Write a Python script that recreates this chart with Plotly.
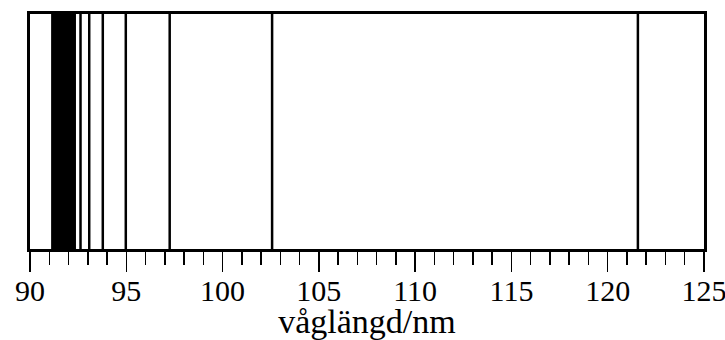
import plotly.graph_objects as go

wavelengths = [121.567, 102.572, 97.254, 94.974, 93.780, 93.075, 92.623, 92.315,
               92.097, 91.937, 91.816, 91.722, 91.648, 91.588, 91.539, 91.498,
               91.464, 91.435, 91.410, 91.389, 91.370, 91.354, 91.339, 91.326,
               91.314, 91.304, 91.295, 91.286, 91.279, 91.272, 91.265, 91.259,
               91.254, 91.249, 91.244, 91.240, 91.236, 91.232, 91.228, 91.225,
               91.222, 91.219, 91.216, 91.213, 91.211, 91.208, 91.206, 91.204,
               91.202, 91.200, 91.198, 91.196, 91.194, 91.193, 91.191]
# unresolved dense band near the series limit (nm)
band_start = 91.19
band_end = 92.315
tick_vals = [90, 95, 100, 105, 110, 115, 120, 125]
x_title = "\u00a0\u00a0våglängd/nm"

xs, ys = [], []
for w in wavelengths:
    xs += [w, w, None]
    ys += [0, 1, None]

fig = go.Figure()
fig.add_trace(go.Scatter(x=[band_start, band_end, band_end, band_start, band_start],
                         y=[0, 0, 1, 1, 0], mode="lines", fill="toself",
                         fillcolor="black", line=dict(color="black", width=2.5),
                         hoverinfo="skip", showlegend=False))
fig.add_trace(go.Scatter(x=xs, y=ys, mode="lines",
                         line=dict(color="black", width=2.5),
                         hoverinfo="skip", showlegend=False))

font = dict(family="'Liberation Serif', 'Times New Roman', serif", color="black")
fig.update_layout(
    width=725, height=340,
    margin=dict(l=30, r=21, t=14, b=91, autoexpand=False),
    paper_bgcolor="white", plot_bgcolor="white",
    font=dict(size=30, **font),
    xaxis=dict(range=[90, 125], tickvals=tick_vals, ticks="outside",
               ticklen=20, tickwidth=1.5, tickcolor="black",
               showline=True, linewidth=3, linecolor="black", mirror=True,
               showgrid=False, zeroline=False, automargin=False,
               ticklabeloverflow="allow", ticklabelstandoff=-7,
               tickfont=dict(size=30, **font),
               minor=dict(dtick=1, ticks="outside", ticklen=13, tickwidth=1.5,
                          tickcolor="black", showgrid=False),
               title=dict(text=x_title, font=dict(size=34, **font), standoff=3)),
    yaxis=dict(range=[0, 1], showticklabels=False, ticks="",
               showline=True, linewidth=3, linecolor="black", mirror=True,
               showgrid=False, zeroline=False, automargin=False),
)
fig.write_html("out.html", config={"displayModeBar": False, "staticPlot": True},
               post_script="document.body.style.margin='0';")
